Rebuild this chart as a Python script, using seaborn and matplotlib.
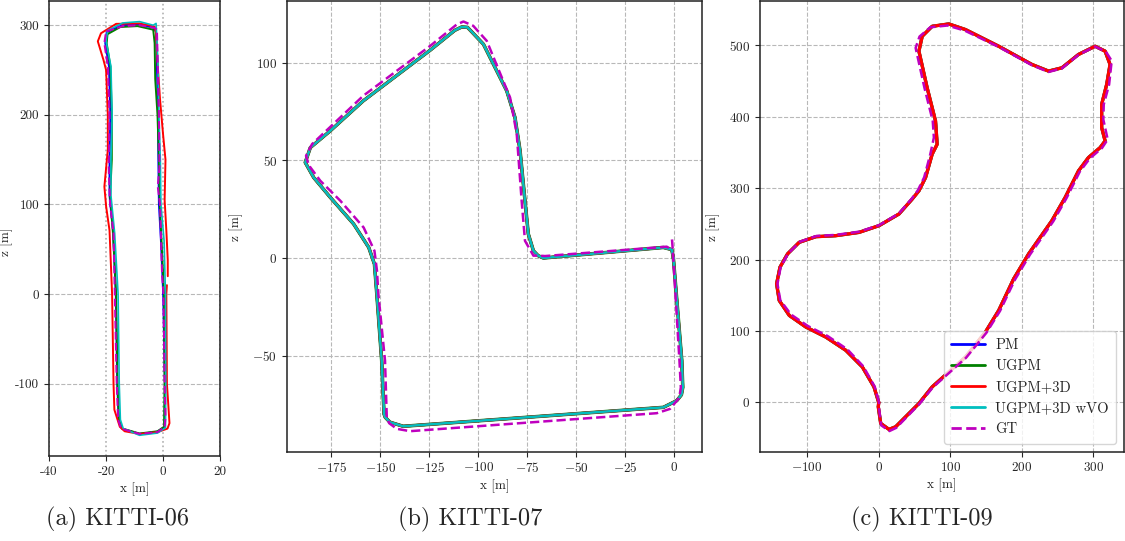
import matplotlib
matplotlib.use("Agg")
import matplotlib.pyplot as plt
import seaborn as sns
from matplotlib.lines import Line2D

# ---------------- data ----------------
series_names = ["PM", "UGPM", "UGPM+3D", "UGPM+3D wVO", "GT"]
series_colors = ["b", "g", "r", "c", "m"]
captions = ["(a) KITTI-06", "(b) KITTI-07", "(c) KITTI-09"]

# KITTI-06
a_pm_x = [0, -0.8, -1.5, -1.7, -1.8, -2.2, -2.5, -3.2, -8.5, -14.5, -19.8, -20.3, -19.0, -18.5, -18.8, -18.8, -17.5, -16.6, -16.1, -15.6, -14.5, -8.3, -2, 0.5, 0.6, 0]
a_pm_z = [0, 60, 100, 150, 200, 254, 292, 297, 301, 300, 292, 280, 254, 200, 150, 110, 68, 0, -100, -140, -150, -156, -153.5, -148, -100, 0]
a_ugpm_x = [0.3, -0.6, -1.2, -1.5, -2.0, -2.8, -3.0, -3.5, -9, -15, -19.5, -19.8, -18.5, -18.0, -18.0, -18.6, -17.6, -16.5, -16.0, -15.5, -14.3, -8.3, -2, 0.3, 0.5, 0.3]
a_ugpm_z = [0, 60, 100, 150, 200, 240, 280, 295, 299, 298, 290, 280, 254, 200, 150, 110, 68, 0, -100, -140, -150, -155.5, -153, -148, -100, 0]
a_3d_x = [1.6, 1.6, 1.1, 0.5, 0.8, -0.1, -1.1, -1.9, -2.5, -3.0, -8.3, -16.5, -21.8, -22.9, -20.9, -20.0, -19.4, -19.4, -20.6, -20.0, -18.8, -17.9, -17.4, -17.1, -15.2, -13.5, -8.3, -2, 1.5, 2.2, 1.6, 1.3, 1.1, 1.3]
a_3d_z = [20, 38, 71, 105, 150, 180, 217, 254, 291, 298.5, 302, 301.5, 291, 282, 261, 250, 200, 161, 120, 98, 71, 0, -100, -129, -148, -153, -156, -154, -150, -144, -114.5, -100, 0, 10]
a_wvo_x = [0.8, 0.3, -0.8, -1.0, -1.5, -1.8, -2.3, -2.5, -3.5, -8.3, -14.2, -19.5, -20, -18.3, -17.9, -18.3, -18.3, -17, -15.8, -15.4, -15.0, -14, -8.3, -2, 0.8, 0.9, 0.8]
a_wvo_z = [0, 60, 100, 150, 200, 254, 290, 302, 300, 304, 302.5, 294, 282, 254, 200, 150, 110, 68, 0, -100, -140, -150, -157.5, -155, -149, -100, 0]
a_gt_x = [0.1, -0.4, -1.1, -1.9, -1.3, -1.5, -1.9, -2.2, -3.0, -8.3, -14.2, -20.0, -20.6, -19.4, -18.8, -19.1, -18.6, -17.4, -16.3, -15.8, -14.7, -8.3, -2.0, 0.5, 0.8, 0.5, 0.1]
a_gt_z = [0, 23, 100, 120, 142, 200, 254, 295, 297, 300, 299, 293, 280, 254, 200, 142, 100, 68, -96, -140, -150, -156, -154, -148, -137, -100, 0]

# KITTI-07
b_est_x = [-0.5, 3.8, 4.3, 3.6, 1.2, -5.6, -138.3, -145.1, -147.5, -148.1, -149.3, -151.8, -153.0, -155.9, -163.6, -175.5, -184.0, -188.3, -185.7, -175.5, -158.7, -124.6, -112.0, -108.5, -105.5, -97.4, -85.5, -81.3, -78.7, -76.2, -74.5, -71.9, -69.5, -66.8, -5.6, -1.3, -0.5]
b_est_z = [0, -52.5, -66.2, -70.0, -73.0, -76.4, -86.1, -84.0, -81.5, -79.8, -52.5, -18.4, -3.1, 5.4, 17.4, 31.0, 41.2, 48.9, 56.5, 65.1, 80.4, 106.3, 116.5, 118.2, 118.0, 109.4, 85.5, 71.9, 54.9, 29.3, 12.3, 3.7, 1.2, 0, 5.4, 4.3, 0]
b_gt_x = [-1.2, -0.8, -0.5, 2.6, 3.3, 2.8, 2.0, -2.2, -9.0, -134.8, -141.6, -145.5, -146.7, -147.6, -151.0, -151.7, -153.0, -158.5, -170.4, -180.6, -186.5, -187.9, -184.8, -158.7, -124.6, -111.0, -107.6, -102.6, -95.7, -83.8, -80.4, -77.9, -76.2, -71.9, -69.0, -66.0, -3.9, -1.3]
b_gt_z = [9.5, 4.0, -1.4, -52.5, -66.2, -69.5, -72.1, -77.2, -79.4, -88.6, -87.4, -84.5, -81.5, -52.5, -18.4, -6.5, 3.7, 15.6, 29.3, 39.5, 47.5, 52.3, 58.3, 83.0, 108.5, 119.5, 121.0, 118.8, 111.1, 82.1, 63.4, 29.3, 8.8, 1.2, 1.2, 1.0, 5.8, 4.3]

# KITTI-09
c_est_x = [0, -6.6, -22.9, -46, -73.9, -101.7, -125, -139, -142.7, -138, -127.4, -111.1, -87.8, -60, -27.5, 0.4, 28.3, 46.8, 56.2, 65.5, 74.7, 81.7, 79.4, 67.7, 56.2, 60.8, 74.7, 98, 121.3, 167.7, 214.1, 237.4, 256, 279.2, 302.4, 316.4, 323.3, 318.6, 311.6, 311.6, 316.4, 309.4, 293.1, 279.2, 260.6, 242, 209.5, 188.6, 167.7, 149.1, 121.3, 74.7, 56.2, 23.7, 14.4, 2.8, -0.6, 0]
c_est_z = [0, 21.8, 49.7, 73, 91.5, 105.5, 121.8, 142.7, 166, 189.2, 207.9, 224.1, 232, 233.4, 238, 247.4, 263.7, 284.6, 296.2, 314.8, 347.4, 361.4, 393.9, 440.4, 491.6, 512.5, 526.4, 529.7, 521.8, 498.5, 473, 463.7, 468.3, 487, 498.5, 491.6, 473, 445.1, 417.2, 384.6, 366, 356.6, 342.7, 324.1, 286.9, 254.4, 207.9, 173, 128.8, 98.5, 63.6, 21.8, -1.4, -34, -37.7, -29.3, -6.1, 0]
c_gt_x = [0.5, -5.5, -21.5, -44, -71.5, -99, -122.5, -137.5, -141.5, -137, -126.5, -110, -87, -60, -27.5, 0.4, 28.3, 46, 54.5, 63.5, 72, 77.1, 75.5, 64, 51.6, 57, 72, 96, 120, 167.7, 214.1, 237.4, 256, 279.2, 302.4, 317.5, 325.6, 322, 314.5, 313.9, 320, 312, 295, 281, 262.5, 244, 211.5, 190.5, 169.5, 150.5, 122, 75.5, 57, 24.5, 15, 3.5, 0.2, 0.5]
c_gt_z = [0, 22, 50.5, 74.5, 93, 107, 123, 143, 166, 189.5, 208.5, 225, 233, 234.5, 239, 248, 264.5, 285, 296.5, 315, 347, 370.6, 394, 440, 496.2, 512, 525, 527.5, 520.5, 497.5, 472, 462.5, 467.5, 486.5, 498, 491, 478, 445, 417, 396, 368, 356, 341.5, 323, 286, 253.5, 207, 172, 128, 97.5, 62.5, 21, -2, -35.5, -40, -32, -6.5, 0]

panels = [
    [(a_pm_x, a_pm_z), (a_ugpm_x, a_ugpm_z), (a_3d_x, a_3d_z), (a_wvo_x, a_wvo_z), (a_gt_x, a_gt_z)],
    [(b_est_x, b_est_z), (b_est_x, b_est_z), (b_est_x, b_est_z), (b_est_x, b_est_z), (b_gt_x, b_gt_z)],
    [(c_est_x, c_est_z), (c_est_x, c_est_z), (c_est_x, c_est_z), (c_est_x, c_est_z), (c_gt_x, c_gt_z)],
]

# ---------------- style ----------------
sns.set_style("ticks")
plt.rcParams["font.family"] = ["cmr10", "DejaVu Serif"]
plt.rcParams["mathtext.fontset"] = "cm"
plt.rcParams["axes.formatter.use_mathtext"] = True
plt.rcParams["axes.unicode_minus"] = True
plt.rcParams["axes.edgecolor"] = "#222222"
plt.rcParams["axes.linewidth"] = 1.1

fig = plt.figure(figsize=(11.25, 5.41), dpi=100)
H = 541.0
W = 1125.0
def box(l, r, t, b):
    return [l / W, (H - b) / H, (r - l) / W, (b - t) / H]

axa = fig.add_axes(box(49, 220.3, 1, 456))
axb = fig.add_axes(box(287, 702, 1, 451.7))
axc = fig.add_axes(box(760, 1124, 1, 451.7))
axes = [axa, axb, axc]

widths = [[1.4, 1.4, 1.4, 1.2, 1.5], [2.0, 2.5, 2.0, 1.8, 1.8], [2.0, 2.3, 2.4, 2.0, 1.8]]
zorders = [[2, 3, 4, 5, 6], [2, 3, 4, 5, 6], [2, 3, 5, 4, 6]]
ylabel_x = [-0.21, -0.106, -0.11]

for ax, data, lws, zos, ylx in zip(axes, panels, widths, zorders, ylabel_x):
    for (xs, zs), col, lw, zo, name in zip(data, series_colors, lws, zos, series_names):
        ls = "--" if name == "GT" else "-"
        sns.lineplot(x=xs, y=zs, sort=False, estimator=None, ax=ax, color=col,
                     lw=lw, ls=ls, zorder=zo, legend=False)
    ax.set_xlabel("x [m]", fontsize=9.5, labelpad=3)
    ax.set_ylabel("z [m]", fontsize=9.5)
    ax.yaxis.set_label_coords(ylx, 0.5)
    ax.tick_params(labelsize=9.5, length=3.5, width=0.8)
    for s in ax.spines.values():
        s.set_visible(True)

# panel a
axa.set_xlim(-40, 20)
axa.set_ylim(-180.6, 327)
axa.set_xticks([-40, -20, 0, 20], labels=["-40", "-20", "0", "20"])
axa.set_yticks([-100, 0, 100, 200, 300], labels=["-100", "0", "100", "200", "300"])
axa.grid(axis="y", ls="--", color="#b8b8b8", lw=0.8)
axa.grid(axis="x", ls=":", color="#b0b0b0", lw=1.2)
axa.yaxis.set_label_coords(-0.21, 0.47)

# panel b
axb.set_xlim(-197.6, 14.1)
axb.set_ylim(-99.1, 131.5)
axb.set_xticks([-175, -150, -125, -100, -75, -50, -25, 0])
axb.set_yticks([-50, 0, 50, 100])
axb.grid(ls="--", color="#b8b8b8", lw=0.8)

# panel c
axc.set_xlim(-165.9, 342.8)
axc.set_ylim(-68.9, 561.8)
axc.set_xticks([-100, 0, 100, 200, 300])
axc.set_yticks([0, 100, 200, 300, 400, 500])
axc.grid(ls="--", color="#b8b8b8", lw=0.8)

handles = [Line2D([0], [0], color=c, lw=2, ls=("--" if n == "GT" else "-"))
           for n, c in zip(series_names, series_colors)]
axc.legend(handles, series_names, loc="lower right", fontsize=10.5, frameon=True,
           handlelength=2.3, handletextpad=0.7, borderaxespad=0.55, borderpad=0.5,
           labelspacing=0.5)

for cap, cx in zip(captions, [117, 470, 922]):
    fig.text(cx / W, (H - 519) / H, cap, ha="center", va="center", fontsize=17.5)

fig.savefig("out.png", dpi=100)
